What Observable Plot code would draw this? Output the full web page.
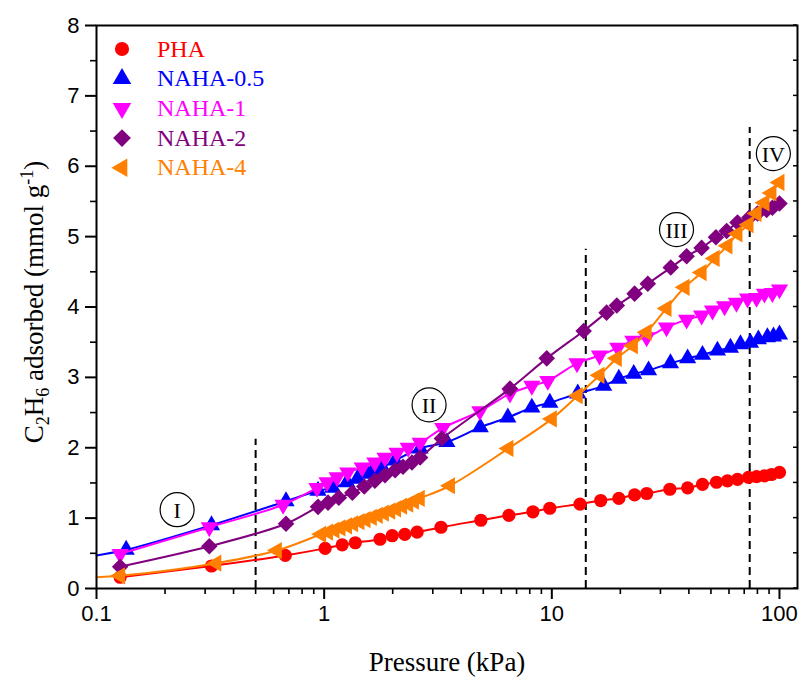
<!DOCTYPE html>
<html><head><meta charset="utf-8">
<script src="https://cdn.jsdelivr.net/npm/d3@7"></script>
<script src="https://cdn.jsdelivr.net/npm/@observablehq/plot@0.6"></script>
<style>
body{margin:0;background:#fff;}
#wrap{position:relative;width:802px;height:681px;}
</style></head><body><div id="wrap"></div>
<script>
// ---- series metadata ----
const seriesNames = ["PHA", "NAHA-0.5", "NAHA-1", "NAHA-2", "NAHA-4"];
const seriesColors = ["#ff0000", "#0000ff", "#ff00ff", "#800080", "#ff8000"];
const seriesSymbols = ["circle", "triangle", "triangle", "square", "triangle"];
const seriesRotate = [0, 0, 180, 45, -90];
const seriesR = [6.6, 6.4, 6.4, 6.6, 6.4];

// ---- data: pressure (kPa) and uptake (mmol/g) ----
const phaP = [0.127, 0.32, 0.675, 1.01, 1.20, 1.37, 1.76, 1.99, 2.26, 2.56, 3.26, 4.88, 6.48, 8.26, 9.8, 13.3, 16.4, 19.7, 23.1, 26.1, 33.0, 39.5, 45.9, 52.9, 59.1, 65.4, 73.1, 79.3, 85.9, 92.2, 100];
const phaV = [0.16, 0.32, 0.47, 0.57, 0.62, 0.65, 0.70, 0.75, 0.77, 0.80, 0.87, 0.97, 1.04, 1.09, 1.14, 1.20, 1.25, 1.28, 1.33, 1.35, 1.41, 1.43, 1.48, 1.51, 1.53, 1.55, 1.58, 1.59, 1.60, 1.62, 1.65];

const naha05P = [0.135, 0.32, 0.68, 0.94, 1.09, 1.26, 1.40, 1.55, 1.64, 1.80, 2.05, 2.64, 3.46, 4.85, 6.41, 8.17, 9.8, 13.0, 16.9, 19.7, 22.9, 26.6, 33.2, 39.5, 45.9, 53.4, 60.9, 67.4, 74.6, 80.8, 88.5, 94.1, 100];
const naha05V = [0.55, 0.90, 1.24, 1.39, 1.43, 1.51, 1.56, 1.63, 1.68, 1.72, 1.82, 1.99, 2.08, 2.29, 2.43, 2.57, 2.64, 2.77, 2.88, 2.98, 3.05, 3.10, 3.20, 3.27, 3.32, 3.38, 3.42, 3.47, 3.49, 3.54, 3.57, 3.58, 3.61];

const naha1P = [0.127, 0.313, 0.66, 0.93, 1.03, 1.14, 1.27, 1.47, 1.67, 1.85, 2.09, 2.34, 2.64, 3.32, 4.83, 6.55, 8.17, 9.6, 12.9, 16.2, 19.5, 22.7, 26.1, 31.9, 39.1, 45.5, 50.8, 57.4, 64.7, 72.4, 79.3, 85.9, 93.1, 100];
const naha1V = [0.49, 0.87, 1.19, 1.43, 1.51, 1.58, 1.65, 1.72, 1.79, 1.86, 1.93, 2.00, 2.07, 2.28, 2.52, 2.77, 2.88, 2.95, 3.20, 3.31, 3.42, 3.52, 3.57, 3.71, 3.82, 3.88, 3.95, 4.01, 4.06, 4.12, 4.13, 4.19, 4.20, 4.25];

const naha2P = [0.127, 0.313, 0.68, 0.94, 1.04, 1.16, 1.33, 1.50, 1.67, 1.85, 2.05, 2.22, 2.43, 2.64, 3.29, 6.55, 9.5, 13.8, 17.4, 19.3, 23.1, 26.4, 33.3, 39.1, 45.5, 52.6, 58.6, 65.4, 73.8, 80.1, 87.8, 93.1, 100];
const naha2V = [0.31, 0.60, 0.92, 1.16, 1.22, 1.29, 1.36, 1.45, 1.53, 1.61, 1.68, 1.73, 1.79, 1.86, 2.13, 2.84, 3.27, 3.66, 3.92, 4.02, 4.19, 4.33, 4.56, 4.72, 4.84, 4.99, 5.08, 5.20, 5.27, 5.33, 5.38, 5.41, 5.47];

const naha4P = [0.127, 0.336, 0.62, 0.97, 1.04, 1.11, 1.18, 1.26, 1.34, 1.43, 1.52, 1.62, 1.72, 1.83, 1.95, 2.07, 2.20, 2.34, 2.48, 2.63, 3.57, 6.45, 10.0, 13.0, 16.2, 19.3, 22.7, 26.1, 31.9, 38.3, 45.5, 51.9, 59.1, 65.4, 73.1, 79.3, 85.9, 92.2, 100];
const naha4V = [0.18, 0.36, 0.54, 0.77, 0.80, 0.83, 0.86, 0.89, 0.92, 0.95, 0.98, 1.01, 1.04, 1.07, 1.10, 1.13, 1.17, 1.20, 1.24, 1.28, 1.46, 1.99, 2.41, 2.74, 3.03, 3.27, 3.45, 3.64, 3.98, 4.28, 4.49, 4.69, 4.87, 5.04, 5.17, 5.33, 5.48, 5.62, 5.77];

// fitted-curve starting values at the left edge (P = 0.1) where the curve extends beyond the first point
const curveStartP = [null, 0.1, null, null, 0.1];
const curveStartV = [null, 0.47, null, null, 0.16];

// ---- annotations ----
const dividerP = [0.5, 14.1, 74];
const dividerTop = [2.12, 4.82, 6.55];
const regionLabels = ["I", "II", "III", "IV"];
const regionP = [0.226, 2.89, 35.3, 94];
const regionV = [1.12, 2.61, 5.10, 6.18];

// ---- axis ticks ----
const xMajor = [0.1, 1, 10, 100];
const xMinor = [0.2,0.3,0.4,0.5,0.6,0.7,0.8,0.9,2,3,4,5,6,7,8,9,20,30,40,50,60,70,80,90];
const yMajor = [0,1,2,3,4,5,6,7,8];
const yMinor = [0.5,1.5,2.5,3.5,4.5,5.5,6.5,7.5];

const allP = [phaP, naha05P, naha1P, naha2P, naha4P];
const allV = [phaV, naha05V, naha1V, naha2V, naha4V];

const seriesMarks = [];
allP.forEach((ps, i) => {
  const pts = ps.map((p, j) => ({p, v: allV[i][j]}));
  const curve = curveStartP[i] != null ? [{p: curveStartP[i], v: curveStartV[i]}, ...pts] : pts;
  seriesMarks.push(Plot.line(curve, {x: "p", y: "v", stroke: seriesColors[i], strokeWidth: 2, curve: "catmull-rom"}));
  seriesMarks.push(Plot.dot(pts, {x: "p", y: "v", symbol: seriesSymbols[i], rotate: seriesRotate[i], r: seriesR[i], fill: seriesColors[i], stroke: "none"}));
});

const dividers = dividerP.map((p, i) => ({p, top: dividerTop[i]}));
const regions = regionLabels.map((t, i) => ({t, p: regionP[i], v: regionV[i]}));

const fmt = d3.format("~g");
const chart = Plot.plot({
  width: 802, height: 681,
  marginLeft: 96, marginRight: 5, marginTop: 25, marginBottom: 93,
  x: {type: "log", domain: [0.1, 120]},
  y: {domain: [0, 8]},
  style: {fontFamily: "'Liberation Sans', Arial, sans-serif", fontSize: "22px", color: "black", background: "white", overflow: "visible"},
  marks: [
    Plot.axisX({ticks: xMajor, tickSize: 11, tickPadding: 6, tickFormat: fmt, label: null, strokeWidth: 2, fontSize: 22}),
    Plot.axisX({ticks: xMinor, tickSize: 6, tickFormat: () => "", label: null, strokeWidth: 1.6}),
    Plot.axisY({ticks: yMajor, tickSize: 11, tickPadding: 6, tickFormat: fmt, label: null, strokeWidth: 2, fontSize: 22}),
    Plot.axisY({ticks: yMinor, tickSize: 6, tickFormat: () => "", label: null, strokeWidth: 1.6}),
    Plot.ruleX(dividers, {x: "p", y1: 0, y2: "top", stroke: "black", strokeWidth: 2, strokeDasharray: "8,5"}),
    ...seriesMarks,
    Plot.dot(regions, {x: "p", y: "v", r: 17, stroke: "black", strokeWidth: 1.2, fill: "none"}),
    Plot.text(regions, {x: "p", y: "v", text: "t", fontFamily: "'Liberation Serif', 'Times New Roman', serif", fontSize: 22, fill: "black", dy: 1}),
    Plot.frame({stroke: "black", strokeWidth: 2})
  ]
});
document.getElementById("wrap").appendChild(chart);

// right-side inward ticks, axis titles and legend drawn into the same SVG
const svg = d3.select(chart);
const ys = chart.scale("y");
const frameRight = 797;
svg.append("g").selectAll("line").data(yMajor.concat(yMinor)).join("line")
  .attr("x1", frameRight - 4).attr("x2", frameRight)
  .attr("y1", d => ys.apply(d)).attr("y2", d => ys.apply(d))
  .attr("stroke", "black").attr("stroke-width", 1.5);

const serif = "'Liberation Serif', 'Times New Roman', serif";
svg.append("text")
  .attr("x", 447).attr("y", 671)
  .attr("text-anchor", "middle")
  .style("font-family", serif).style("font-size", "27px").attr("fill", "black")
  .text("Pressure (kPa)");

const yl = svg.append("text")
  .attr("transform", "translate(43,302) rotate(-90)")
  .attr("text-anchor", "middle")
  .style("font-family", serif).style("font-size", "27px").attr("fill", "black");
yl.append("tspan").text("C");
yl.append("tspan").attr("dy", 6).style("font-size", "18px").text("2");
yl.append("tspan").attr("dy", -6).text("H");
yl.append("tspan").attr("dy", 6).style("font-size", "18px").text("6");
yl.append("tspan").attr("dy", -6).text(" adsorbed (mmol g");
yl.append("tspan").attr("dy", -10).style("font-size", "18px").text("-1");
yl.append("tspan").attr("dy", 10).text(")");

const legendY0 = 49, legendStep = 29.7;
const lg = svg.append("g");
seriesNames.forEach((name, i) => {
  const cy = legendY0 + i * legendStep;
  const type = {circle: d3.symbolCircle, triangle: d3.symbolTriangle, square: d3.symbolSquare}[seriesSymbols[i]];
  lg.append("path")
    .attr("d", d3.symbol(type, Math.PI * seriesR[i] * seriesR[i] * 1.15)())
    .attr("transform", `translate(122,${cy}) rotate(${seriesRotate[i]})`)
    .attr("fill", seriesColors[i]);
  lg.append("text")
    .attr("x", 157).attr("y", cy + 7.5)
    .attr("text-anchor", "start")
    .style("font-family", serif).style("font-size", "24px").attr("fill", seriesColors[i])
    .text(name);
});
</script>
</body></html>
